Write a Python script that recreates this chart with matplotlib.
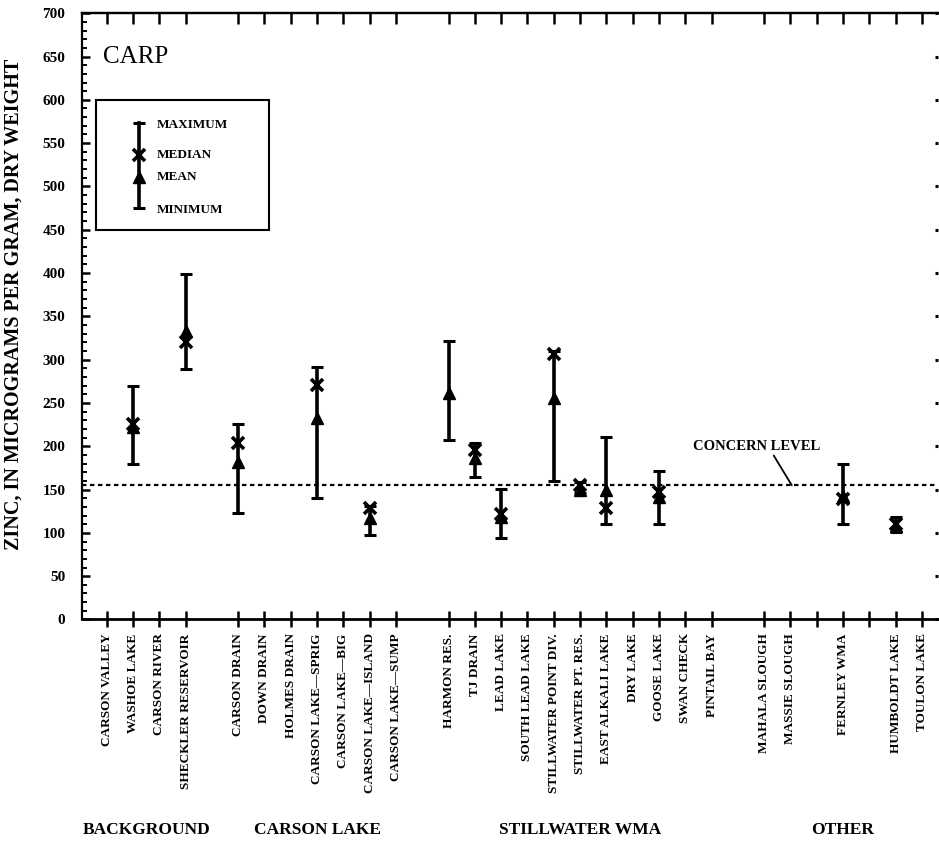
import numpy as np
import matplotlib
matplotlib.use("Agg")
import matplotlib.pyplot as plt
from matplotlib.ticker import MultipleLocator
from matplotlib.patches import Rectangle
import matplotlib.transforms as mtransforms

plt.rcParams['font.family'] = ['Liberation Serif', 'DejaVu Serif']

# sampling sites, slot position along the x axis, and zinc values (ug/g dry weight)
sites = ['CARSON VALLEY', 'WASHOE LAKE', 'CARSON RIVER', 'SHECKLER RESERVOIR',
         'CARSON DRAIN', 'DOWN DRAIN', 'HOLMES DRAIN', 'CARSON LAKE\u2014SPRIG',
         'CARSON LAKE\u2014BIG', 'CARSON LAKE\u2014ISLAND', 'CARSON LAKE\u2014SUMP',
         'HARMON RES.', 'TJ DRAIN', 'LEAD LAKE', 'SOUTH LEAD LAKE',
         'STILLWATER POINT DIV.', 'STILLWATER PT. RES.', 'EAST ALKALI LAKE',
         'DRY LAKE', 'GOOSE LAKE', 'SWAN CHECK', 'PINTAIL BAY',
         'MAHALA SLOUGH', 'MASSIE SLOUGH', '', 'FERNLEY WMA', '',
         'HUMBOLDT LAKE', 'TOULON LAKE']
slots = [1, 2, 3, 4, 6, 7, 8, 9, 10, 11, 12, 14, 15, 16, 17, 18, 19, 20, 21,
         22, 23, 24, 26, 27, 28, 29, 30, 31, 32]

nan = np.nan
maximum = [nan, 270, nan, 399, 226, nan, nan, 291, nan, 131, nan, 322, 204, 151, nan,
           310, 159, 211, nan, 171, nan, nan, nan, nan, nan, 180, nan, 118, nan]
median = [nan, 226, nan, 320, 204, nan, nan, 271, nan, 129, nan, nan, 196, 122, nan,
          307, 155, 129, nan, 147, nan, nan, nan, nan, nan, 139, nan, 110, nan]
mean = [nan, 222, nan, 333, 182, nan, nan, 233, nan, 117, nan, 262, 187, 118, nan,
        256, 150, 150, nan, 141, nan, nan, nan, nan, nan, 142, nan, 108, nan]
minimum = [nan, 180, nan, 289, 123, nan, nan, 140, nan, 97, nan, 207, 165, 94, nan,
           160, 146, 110, nan, 110, nan, nan, nan, nan, nan, 110, nan, 101, nan]

concern_level = 155

groups = ['BACKGROUND', 'CARSON LAKE', 'STILLWATER WMA', 'OTHER']
group_centers = [2.5, 9, 19, 29]

x = np.array(slots, dtype=float)
hi = np.array(maximum)
lo = np.array(minimum)

fig = plt.figure(figsize=(9.39, 8.48), dpi=100)
ax = fig.add_axes([0.0873, 0.2695, 0.9116, 0.7149])

# range bars
mid = (hi + lo) / 2
half = (hi - lo) / 2
ax.errorbar(x, mid, yerr=half, fmt='none', ecolor='black', elinewidth=2.6,
            capsize=4.5, capthick=2.2)
ax.plot(x, median, linestyle='none', marker='x', markersize=8.5, mew=2.6, color='black')
ax.plot(x, mean, linestyle='none', marker='^', markersize=9, color='black')

# concern level
ax.axhline(concern_level, color='black', lw=1.6, dashes=(2, 1.6))
ax.annotate('CONCERN LEVEL', xy=(27.05, concern_level), xytext=(23.3, 200),
            fontsize=10.5, fontweight='bold', va='center', ha='left',
            arrowprops=dict(arrowstyle='-', color='black', lw=1.3,
                            shrinkA=0, shrinkB=0, relpos=(0.62, 0.0)))

ax.set_xlim(0.06, 32.61)
ax.set_ylim(0, 700)

ax.set_xticks(slots)
ax.set_xticklabels(sites, rotation=90, fontsize=9.5, fontweight='bold', va='top')
ax.set_yticks(range(0, 701, 50))
ax.yaxis.set_minor_locator(MultipleLocator(10))
for lab in ax.get_yticklabels():
    lab.set_fontweight('bold')

ax.tick_params(axis='x', direction='inout', length=12, width=1.8, pad=4)
ax.tick_params(axis='y', which='major', direction='in', length=6, width=1.8,
               labelsize=11, pad=12)
ax.tick_params(axis='y', which='minor', direction='in', length=3.5, width=1.4)

ax.spines['right'].set_visible(False)
for s in ['left', 'top']:
    ax.spines[s].set_linewidth(1.6)
ax.spines['bottom'].set_linewidth(2.0)

# ticks on the top edge and dots on the right edge
top = ax.secondary_xaxis('top')
top.set_xticks(slots)
top.set_xticklabels([])
top.tick_params(direction='in', length=8, width=1.8)
top.spines['top'].set_linewidth(1.6)

right = ax.secondary_yaxis('right')
right.set_yticks(range(0, 701, 50))
right.set_yticklabels([])
right.tick_params(direction='in', length=2, width=2.2)
right.spines['right'].set_visible(False)

ax.set_ylabel('ZINC, IN MICROGRAMS PER GRAM, DRY WEIGHT', fontsize=14.5,
              fontweight='bold')
ax.yaxis.set_label_coords(-0.068, 0.52)

ax.text(0.025, 0.928, 'CARP', transform=ax.transAxes, fontsize=18,
        va='center', ha='left')

# explanation box
ax.add_patch(Rectangle((0.0163, 0.643), 0.2017, 0.214, transform=ax.transAxes,
                       fill=False, lw=1.5, color='black'))
sx = 0.0669
ax.plot([sx, sx], [0.679, 0.819], transform=ax.transAxes, color='black', lw=2.6)
ax.plot([sx, sx], [0.679, 0.819], transform=ax.transAxes, linestyle='none',
        marker='_', markersize=9, mew=2.2, color='black')
ax.plot([sx], [0.766], transform=ax.transAxes, marker='x', markersize=8.5, mew=2.6,
        color='black')
ax.plot([sx], [0.730], transform=ax.transAxes, marker='^', markersize=9,
        color='black')
for label, yy in zip(['MAXIMUM', 'MEDIAN', 'MEAN', 'MINIMUM'],
                     [0.816, 0.766, 0.730, 0.676]):
    ax.text(0.0872, yy, label, transform=ax.transAxes, fontsize=9.5,
            fontweight='bold', va='center', ha='left')

# group names under the site labels
trans = mtransforms.blended_transform_factory(ax.transData, fig.transFigure)
for name, cx in zip(groups, group_centers):
    ax.text(cx, 0.021, name, transform=trans, fontsize=12.5, fontweight='bold',
            ha='center', va='center')

fig.savefig('out.png', dpi=100)
